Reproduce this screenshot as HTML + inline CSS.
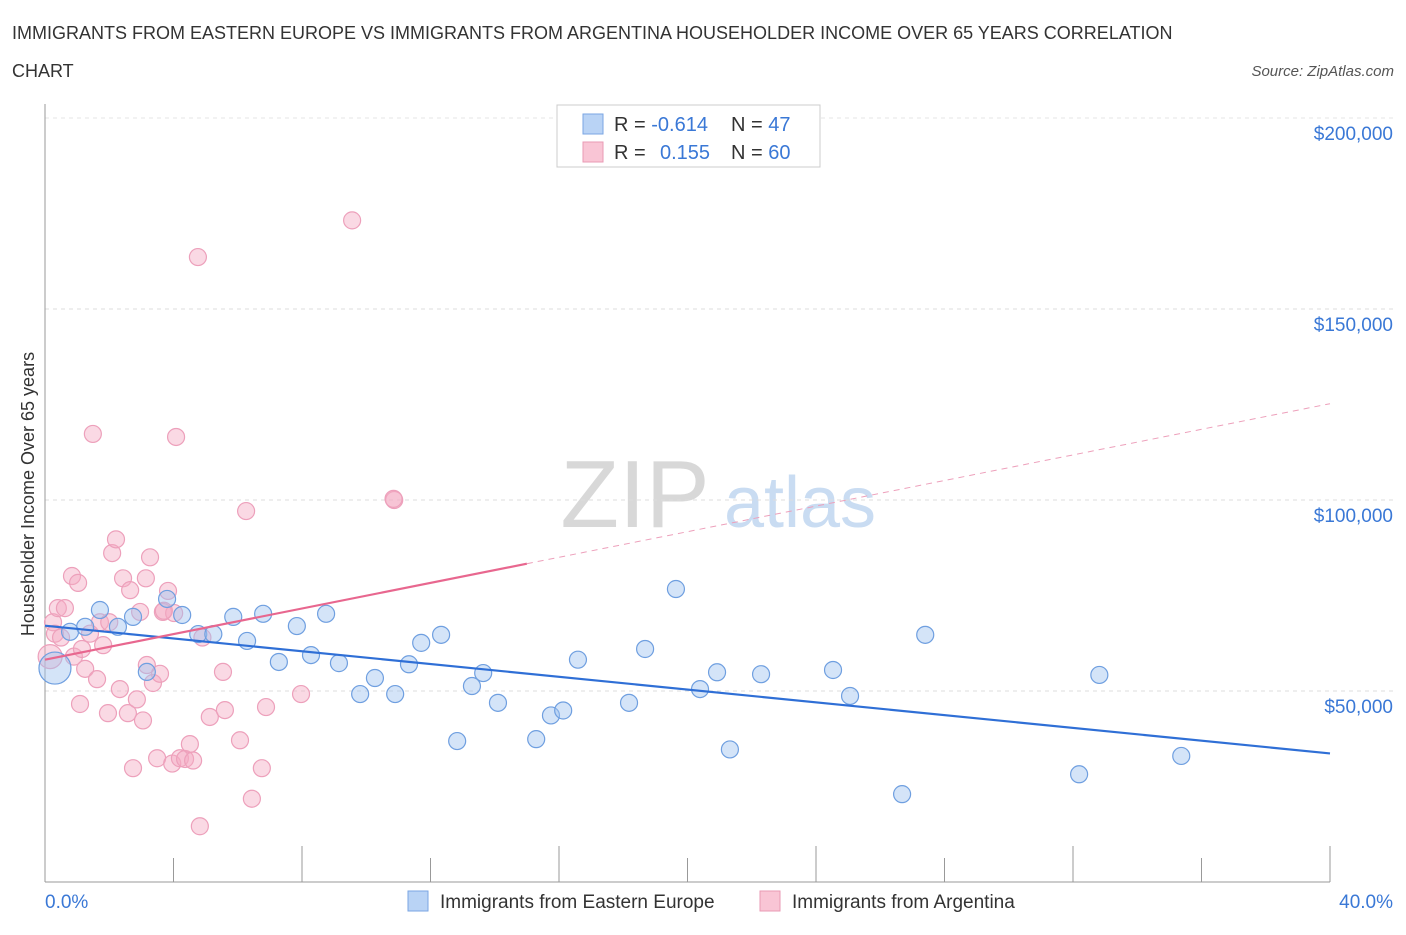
<!DOCTYPE html>
<html><head><meta charset="utf-8"><style>
body{margin:0;background:#fff;font-family:"Liberation Sans",sans-serif;}
svg text{font-family:"Liberation Sans",sans-serif;}
</style></head><body>
<svg id="chart" width="1406" height="930" viewBox="0 0 1406 930" xmlns="http://www.w3.org/2000/svg">
<text x="12" y="39" font-size="18" fill="#333">IMMIGRANTS FROM EASTERN EUROPE VS IMMIGRANTS FROM ARGENTINA HOUSEHOLDER INCOME OVER 65 YEARS CORRELATION</text>
<text x="12" y="77" font-size="18" fill="#333">CHART</text>
<text x="1394" y="76" font-size="15" fill="#555" text-anchor="end" font-style="italic">Source: ZipAtlas.com</text>
<g>
<text x="635" y="527" font-size="96" fill="#d8d8d8" font-family="Liberation Serif,serif" text-anchor="middle">ZIP</text>
<text x="800" y="527" font-size="72" fill="#c9dcf2" text-anchor="middle">atlas</text>
</g>
<g id="grid"></g>
<g id="axes"></g>
<text transform="translate(34,494) rotate(-90)" font-size="18" fill="#333" text-anchor="middle">Householder Income Over 65 years</text>
<g id="marks"></g>
<g>
<rect x="557" y="105" width="263" height="62" fill="#fff" stroke="#ccc"/>
<rect x="583" y="114" width="20" height="20" fill="#b9d3f5" stroke="#7aa6e3"/>
<rect x="583" y="142" width="20" height="20" fill="#f9c5d5" stroke="#e99ab4"/>
<text x="614" y="131" font-size="20" fill="#333">R = <tspan fill="#3a78d6">-0.614</tspan></text>
<text x="731" y="131" font-size="20" fill="#333">N = <tspan fill="#3a78d6">47</tspan></text>
<text x="614" y="159" font-size="20" fill="#333">R = <tspan fill="#3a78d6" x="660">0.155</tspan></text>
<text x="731" y="159" font-size="20" fill="#333">N = <tspan fill="#3a78d6">60</tspan></text>
</g>
<g>
<rect x="408" y="891" width="20" height="20" fill="#b9d3f5" stroke="#7aa6e3"/>
<text x="440" y="908" font-size="19" fill="#333">Immigrants from Eastern Europe</text>
<rect x="760" y="891" width="20" height="20" fill="#f9c5d5" stroke="#e99ab4"/>
<text x="792" y="908" font-size="19" fill="#333">Immigrants from Argentina</text>
</g>
</svg>
<script>
const yTicks=[50000,100000,150000,200000];
const yTickLabels=["$50,000","$100,000","$150,000","$200,000"];
const xTicks=[0,4,8,12,16,20,24,28,32,36,40];
const blueX=[0.31,0.78,1.25,1.71,2.27,2.74,3.17,3.80,4.27,4.77,5.24,5.86,6.29,6.79,7.28,7.84,8.28,8.75,9.15,9.81,10.27,10.90,11.33,11.71,12.33,12.83,13.29,13.64,14.10,15.29,15.75,16.13,16.59,18.18,18.68,19.64,20.39,20.92,21.32,22.29,24.53,25.06,26.68,27.40,32.19,32.82,35.37];
const blueY=[56000,65500,66800,71200,66800,69400,55000,74100,69900,64900,64900,69400,63100,70200,57600,67000,59400,70200,57300,49200,53400,49200,57000,62600,64700,36900,51300,54700,46900,37400,43600,44900,58200,46900,61000,76700,50500,54900,34700,54400,55500,48700,23000,64700,28200,54200,33000];
const pinkX=[0.16,0.25,0.31,0.40,0.62,0.84,0.90,1.03,1.09,1.25,1.40,1.49,1.62,1.71,1.81,1.96,2.09,2.21,2.33,2.43,2.58,2.65,2.74,2.86,2.96,3.05,3.14,3.17,3.27,3.36,3.49,3.58,3.67,3.83,3.96,4.02,4.08,4.20,4.36,4.51,4.61,4.76,4.82,5.13,5.54,6.07,6.26,6.44,6.75,6.88,7.97,9.56,10.87,10.85,0.5,1.15,2.0,3.7,4.9,5.6];
const pinkY=[59000,68000,65000,71700,71700,80100,59000,78300,46600,55800,65000,117300,53100,68000,62000,44200,86100,89700,50500,79500,44200,76400,29800,47800,70700,42300,79500,56800,85000,52100,32400,54500,70700,76200,31000,70400,116500,32400,32200,36100,31800,163600,14600,43200,55000,37100,97100,21800,29800,45800,49200,173200,100000,100300,64000,61000,68000,71000,64000,45000];
const minX=0,maxX=40,px0=45,px1=1330;
function sx(v){return px0+(v-minX)/(maxX-minX)*(px1-px0);}
function sy(v){return 882-v/50000*191;}
const NS="http://www.w3.org/2000/svg";
function mk(tag,attrs,parent){const e=document.createElementNS(NS,tag);for(const k in attrs)e.setAttribute(k,attrs[k]);parent.appendChild(e);return e;}
const gridG=document.getElementById('grid'),axesG=document.getElementById('axes'),marksG=document.getElementById('marks');
yTicks.forEach((t,i)=>{
  const l=mk('line',{x1:45,x2:1394,y1:sy(t),y2:sy(t),stroke:'#ddd','stroke-dasharray':'4,4'},gridG);
  
  
  const tx=mk('text',{x:1393,y:sy(t)+22,'font-size':19,fill:'#3a78d6','text-anchor':'end'},axesG);
  tx.textContent=yTickLabels[i];
  
  
});
const topLine=mk('line',{x1:45,x2:1394,y1:118,y2:118,stroke:'#e6e6e6','stroke-dasharray':'4,4'},gridG);


const yax=mk('line',{x1:45,x2:45,y1:104,y2:882,stroke:'#999'},axesG);


const xax=mk('line',{x1:45,x2:1330,y1:882,y2:882,stroke:'#999'},axesG);


xTicks.forEach((t,i)=>{
  const h=(i%2==0)?36:24;
  const l=mk('line',{x1:sx(t),x2:sx(t),y1:882,y2:882-(i==0?0:h),stroke:'#999'},axesG);
  
  
});
[['0.0%',45,'start'],['40.0%',1393,'end']].forEach(a=>{
  const t=mk('text',{x:a[1],y:908,'font-size':19,fill:'#3a78d6','text-anchor':a[2]},axesG);
  t.textContent=a[0];
  
  
});
pinkX.forEach((x,i)=>{
  const c=mk('circle',{cx:sx(x),cy:sy(pinkY[i]),r:i==0?12:8.5,fill:'rgba(245,170,195,0.45)',stroke:'#eda0bb','stroke-width':1.2},marksG);
  
  
});
blueX.forEach((x,i)=>{
  const c=mk('circle',{cx:sx(x),cy:sy(blueY[i]),r:i==0?16:8.5,fill:'rgba(160,195,240,0.45)',stroke:'#6f9fe0','stroke-width':1.2},marksG);
  
  
});
function fit(X,Y){const n=X.length;let mx=0,my=0;X.forEach((x,i)=>{mx+=x;my+=Y[i];});mx/=n;my/=n;let sxy=0,sxx=0;X.forEach((x,i)=>{sxy+=(x-mx)*(Y[i]-my);sxx+=(x-mx)*(x-mx);});const b=sxy/sxx;return [my-b*mx,b];}
const fb=fit(blueX,blueY);
const bl=mk('line',{x1:sx(0),y1:sy(fb[0]),x2:sx(40),y2:sy(fb[0]+fb[1]*40),stroke:'#2f6fd6','stroke-width':2.2},marksG);


const fp=fit(pinkX,pinkY);
const pl=mk('line',{x1:sx(0),y1:sy(fp[0]),x2:sx(15),y2:sy(fp[0]+fp[1]*15),stroke:'#e8678f','stroke-width':2.2},marksG);


const pd=mk('line',{x1:sx(15),y1:sy(fp[0]+fp[1]*15),x2:sx(40),y2:sy(fp[0]+fp[1]*40),stroke:'#eda0bb','stroke-width':1,'stroke-dasharray':'6,5'},marksG);


</script>
</body></html>
